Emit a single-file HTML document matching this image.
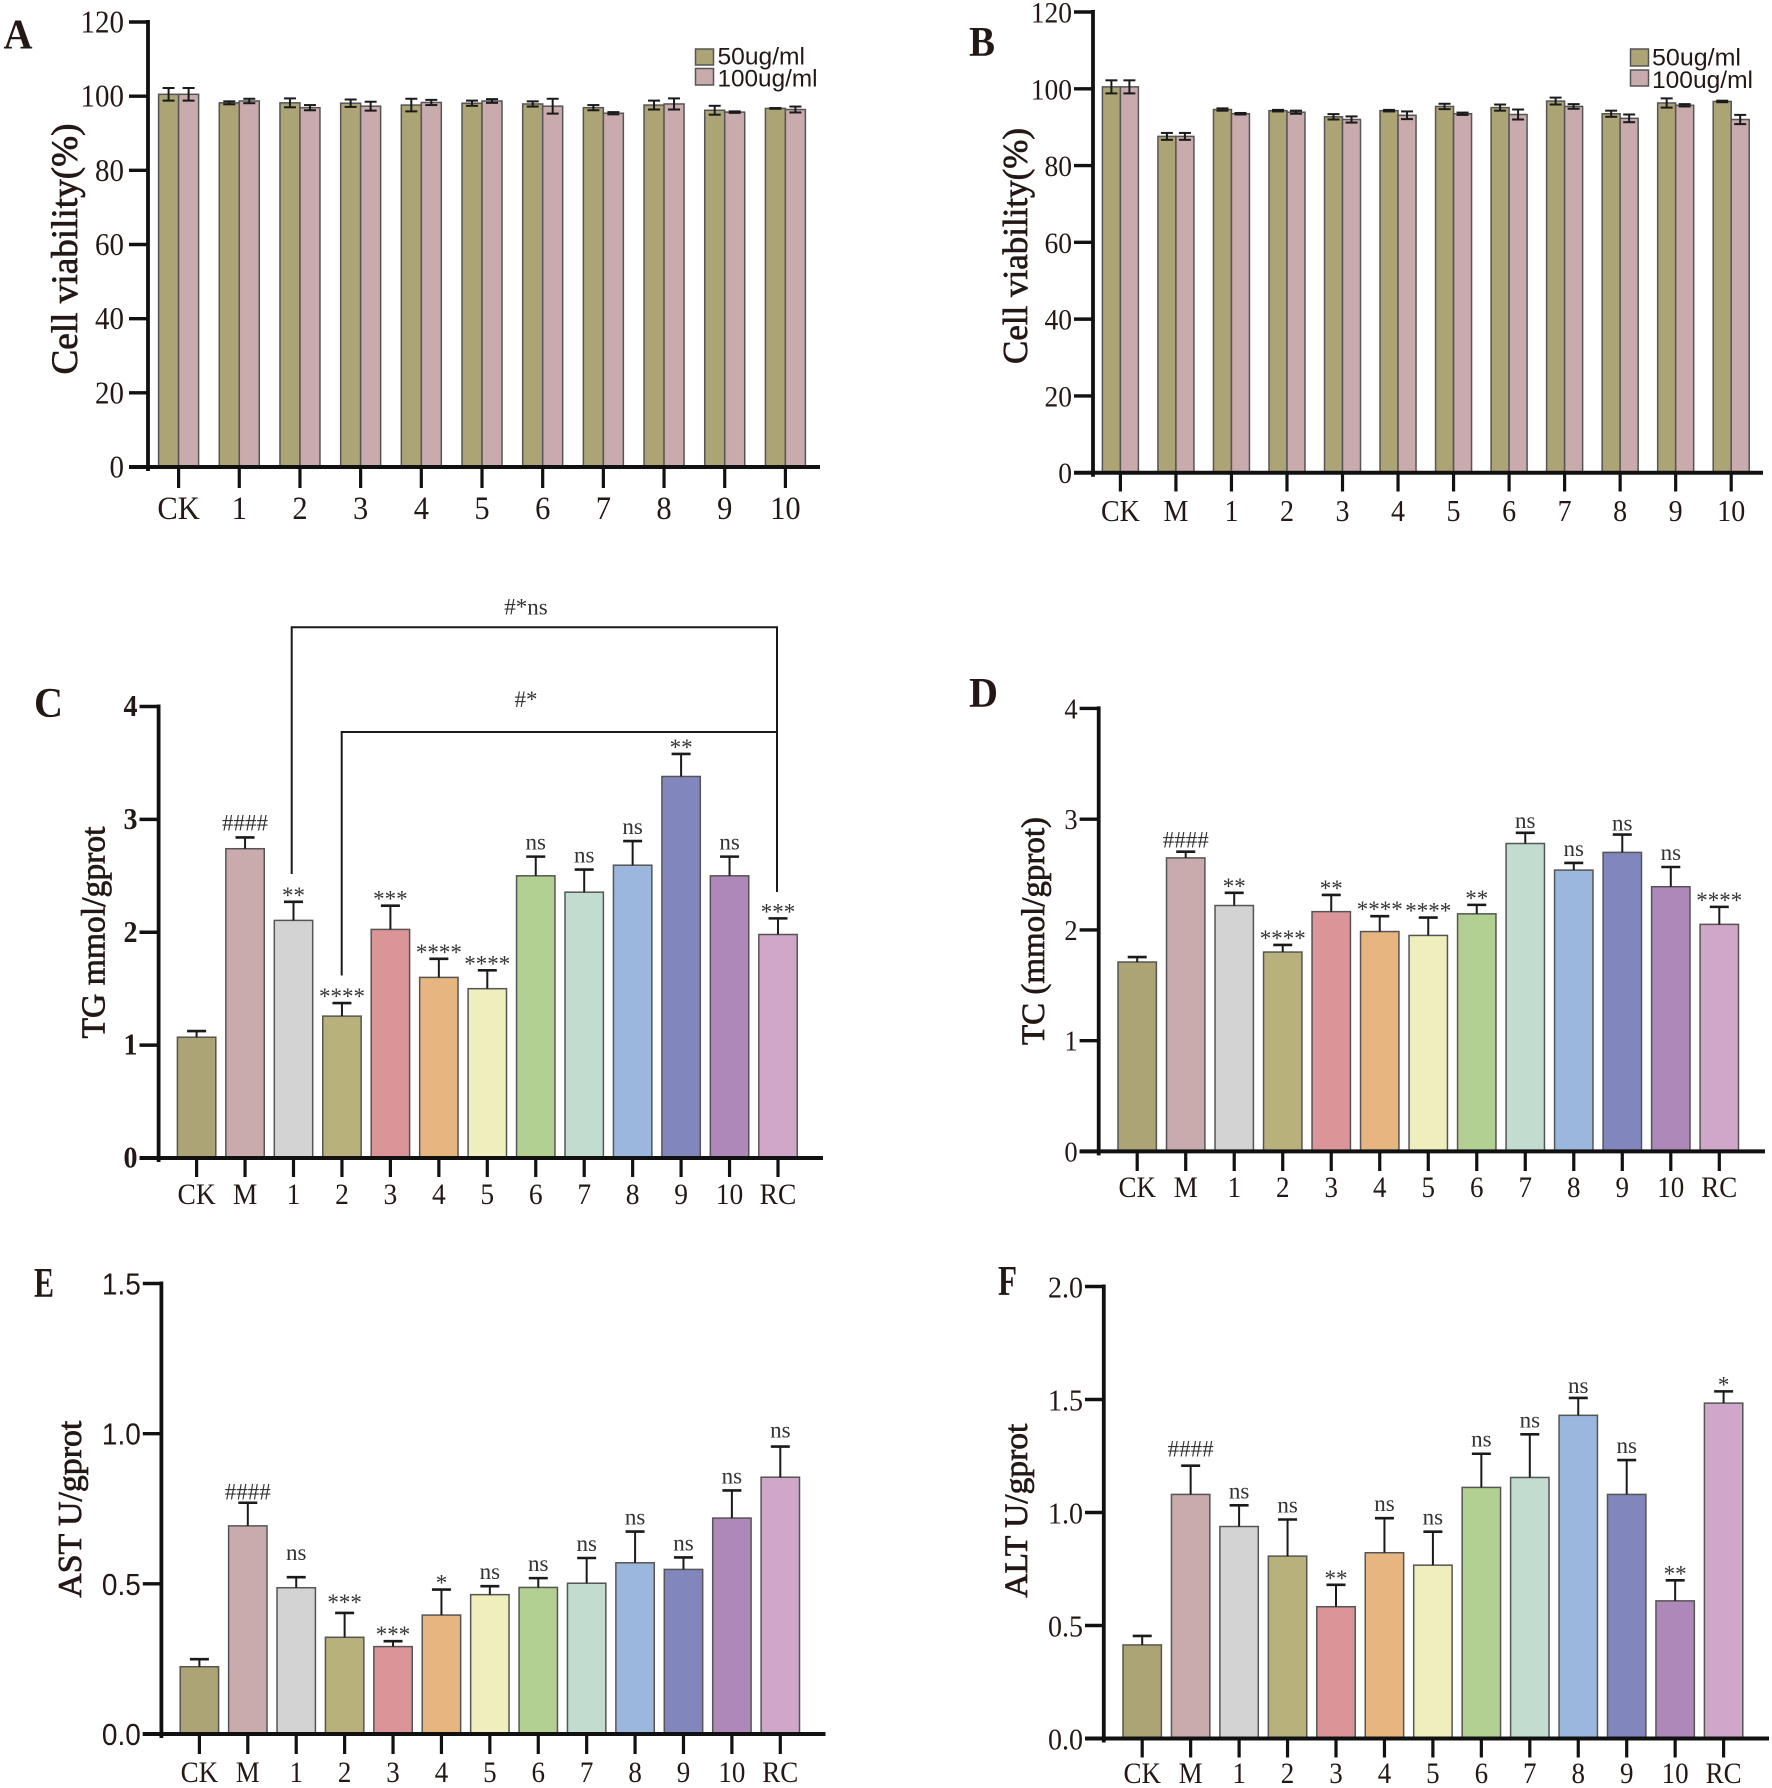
<!DOCTYPE html>
<html lang="en">
<head>
<meta charset="utf-8">
<title>Cell viability and lipid/liver enzyme bar charts</title>
<style>
html,body{margin:0;padding:0;background:#fff;}
svg{display:block;}
text{font-family:"Liberation Serif",serif;fill:#231815;}
.sans{font-family:"Liberation Sans",sans-serif;}
.letter{font-size:42px;font-weight:bold;}
.ytitle{font-weight:normal;stroke:#231815;stroke-width:.7px;}
.annot{font-size:23px;fill:#333;text-anchor:middle;}
</style>
</head>
<body>
<svg id="figure" xmlns="http://www.w3.org/2000/svg" width="1772" height="1788" viewBox="0 0 1772 1788">
  <rect x="0" y="0" width="1772" height="1788" fill="#fff"/>

  <text class="letter" x="3.5" y="48.5" textLength="29" lengthAdjust="spacingAndGlyphs">A</text>
  <text class="letter" x="969" y="56" textLength="26" lengthAdjust="spacingAndGlyphs">B</text>
  <text class="letter" x="34" y="717" textLength="29" lengthAdjust="spacingAndGlyphs">C</text>
  <text class="letter" x="969" y="707" textLength="29" lengthAdjust="spacingAndGlyphs">D</text>
  <text class="letter" x="34" y="1297" textLength="20" lengthAdjust="spacingAndGlyphs">E</text>
  <text class="letter" x="998" y="1295" textLength="19" lengthAdjust="spacingAndGlyphs">F</text>

  <text class="ytitle" transform="translate(77,374.5) rotate(-90)" font-size="37" textLength="251" lengthAdjust="spacingAndGlyphs">Cell viability(%)</text>
  <text class="ytitle" transform="translate(1027,364) rotate(-90)" font-size="35" textLength="236" lengthAdjust="spacingAndGlyphs">Cell viability(%)</text>
  <text class="ytitle" transform="translate(104.5,1038.5) rotate(-90)" font-size="33.6" textLength="212" lengthAdjust="spacingAndGlyphs">TG mmol/gprot</text>
  <text class="ytitle" transform="translate(1044,1045) rotate(-90)" font-size="33" textLength="228" lengthAdjust="spacingAndGlyphs">TC (mmol/gprot)</text>
  <text class="ytitle" transform="translate(81,1597.7) rotate(-90)" font-size="33.6" textLength="177" lengthAdjust="spacingAndGlyphs">AST U/gprot</text>
  <text class="ytitle" transform="translate(1027,1597.7) rotate(-90)" font-size="32.8" textLength="174" lengthAdjust="spacingAndGlyphs">ALT U/gprot</text>

  <g>
    <rect x="695.5" y="49" width="18" height="16" fill="#ACA474" stroke="#555" stroke-width="1.5"/>
    <rect x="695.5" y="68.5" width="18" height="16.5" fill="#C9ABAD" stroke="#555" stroke-width="1.5"/>
    <text class="sans" x="717.5" y="64.5" font-size="24" textLength="87.5" lengthAdjust="spacingAndGlyphs">50ug/ml</text>
    <text class="sans" x="717.5" y="86.5" font-size="24" textLength="100" lengthAdjust="spacingAndGlyphs">100ug/ml</text>
  </g>
  <g>
    <rect x="1630.5" y="49" width="18" height="17" fill="#ACA474" stroke="#555" stroke-width="1.5"/>
    <rect x="1630.5" y="70" width="18" height="16" fill="#C9ABAD" stroke="#555" stroke-width="1.5"/>
    <text class="sans" x="1652" y="65.5" font-size="24" textLength="89" lengthAdjust="spacingAndGlyphs">50ug/ml</text>
    <text class="sans" x="1652" y="88" font-size="24" textLength="101" lengthAdjust="spacingAndGlyphs">100ug/ml</text>
  </g>

  <g fill="none" stroke="#1a1a1a" stroke-width="2">
    <path d="M291.7 874 V627.3 H777 V892"/>
    <path d="M341.7 975.5 V732 H777"/>
  </g>
  <text class="annot" x="526" y="614.5">#*ns</text>
  <text class="annot" x="526" y="707">#*</text>
</svg>

<script>
// Panel A data
const categoriesA = ['CK','1','2','3','4','5','6','7','8','9','10'];
const ticksA = ['0','20','40','60','80','100','120'];
const values50A = [100.5,98.2,98.2,98.1,97.6,98.1,97.9,96.9,97.6,96.2,96.7];
const values100A = [100.5,98.7,96.9,97.3,98.3,98.7,97.3,95.4,97.9,95.7,96.4];
const errors50A = [1.7,0.4,1.2,1.0,1.7,0.7,0.7,0.7,1.2,1.2,0.1];
const errors100A = [1.7,0.6,0.7,1.2,0.7,0.5,2.0,0.3,1.5,0.2,0.8];

// Panel B data
const categoriesB = ['CK','M','1','2','3','4','5','6','7','8','9','10'];
const ticksB = ['0','20','40','60','80','100','120'];
const values50B = [100.5,87.6,94.6,94.3,92.7,94.3,95.4,95.1,96.8,93.5,96.3,96.7];
const values100B = [100.5,87.6,93.5,93.9,92.0,93.1,93.5,93.3,95.4,92.3,95.7,92.0];
const errors50B = [1.7,0.9,0.3,0.2,0.7,0.2,0.7,0.8,0.9,0.8,1.2,0.2];
const errors100B = [1.7,0.9,0.2,0.4,0.8,1.0,0.3,1.3,0.6,1.0,0.3,1.2];

// Shared categories for panels C-F
const categoriesTreat = ['CK','M','1','2','3','4','5','6','7','8','9','10','RC'];
const barColors = ['#ACA474','#C9ABAD','#D3D3D3','#B8B17B','#DB9599','#E7B680','#EEEFBC','#B3D093','#C2DDCF','#9CB7DE','#8186BC','#AE88B8','#D0A6C9'];

// Panel C data
const ticksC = ['0','1','2','3','4'];
const valuesC = [1.07,2.74,2.105,1.257,2.025,1.60,1.50,2.50,2.355,2.594,3.38,2.50,1.98];
const errorsC = [0.055,0.10,0.165,0.116,0.21,0.165,0.163,0.17,0.20,0.214,0.20,0.17,0.143];
const statsC = ['','####','**','****','***','****','****','ns','ns','ns','**','ns','***'];

// Panel D data
const ticksD = ['0','1','2','3','4'];
const valuesD = [1.71,2.65,2.22,1.80,2.165,1.985,1.95,2.145,2.78,2.54,2.70,2.39,2.05];
const errorsD = [0.045,0.056,0.115,0.064,0.151,0.139,0.161,0.081,0.097,0.065,0.161,0.178,0.158];
const statsD = ['','####','**','****','**','****','****','**','ns','ns','ns','ns','****'];
const liftsD = [0,-3,0,0,0,0,0,0,-2,0,-3,0,0];

// Panel E data
const ticksE = ['0.0','0.5','1.0','1.5'];
const valuesE = [0.224,0.693,0.487,0.322,0.291,0.396,0.464,0.488,0.502,0.57,0.548,0.719,0.855];
const errorsE = [0.025,0.077,0.035,0.081,0.018,0.085,0.028,0.031,0.084,0.104,0.04,0.092,0.102];
const statsE = ['','####','ns','***','***','*','ns','ns','ns','ns','ns','ns','ns'];
const liftsE = [0,-4,10,4,0,0,0,0,0,0,0,0,2];

// Panel F data
const ticksF = ['0.0','0.5','1.0','1.5','2.0'];
const valuesF = [0.414,1.08,0.938,0.807,0.583,0.822,0.767,1.111,1.155,1.43,1.08,0.609,1.484];
const errorsF = [0.04,0.127,0.094,0.162,0.097,0.153,0.148,0.149,0.191,0.077,0.152,0.091,0.052];
const statsF = ['','####','ns','ns','**','ns','ns','ns','ns','ns','ns','**','*'];
const liftsF = [0,2,0,0,0,0,0,0,0,-2,0,0,0];

const SVG_NS = 'http://www.w3.org/2000/svg';
const figure = document.getElementById('figure');

function svgEl(parent, tag, attrs) {
  const node = document.createElementNS(SVG_NS, tag);
  for (const key in attrs) node.setAttribute(key, attrs[key]);
  parent.appendChild(node);
  return node;
}

function makeScales(layout, categories, ticks) {
  const maxTick = Number(ticks[ticks.length - 1]);
  const step = (layout.xLast - layout.xFirst) / (categories.length - 1);
  return {
    x: function (i) { return layout.xFirst + i * step; },
    y: function (v) { return layout.y0 - (v / maxTick) * (layout.y0 - layout.yTop); }
  };
}

function drawAxes(group, layout, categories, ticks, scales) {
  const yLine = svgEl(group, 'line', {x1: layout.axisX, x2: layout.axisX, y1: layout.yTop - 2, y2: layout.y0 + 4, stroke: '#111', 'stroke-width': 3.8});
  
  
  const xLine = svgEl(group, 'line', {x1: layout.tickLeft, x2: layout.xEnd, y1: layout.y0, y2: layout.y0, stroke: '#111', 'stroke-width': 4});
  
  

  ticks.forEach(function (label) {
    const y = scales.y(Number(label));
    const tick = svgEl(group, 'line', {x1: layout.tickLeft, x2: layout.axisX, y1: y, y2: y, stroke: '#111', 'stroke-width': 3.4});
    
    
    const text = svgEl(group, 'text', {transform: 'translate(' + (layout.tickLeft - (layout.yLabelGap || 2)) + ',' + (y + layout.yLabelDy) + ') scale(0.92,1)', 'text-anchor': 'end', 'font-size': layout.yFont * 1.087, 'font-weight': layout.yWeight || 'normal', 'class': layout.ySans ? 'sans' : '', fill: '#2b2b2b'});
    text.textContent = label;
    
    
  });

  categories.forEach(function (label, i) {
    const x = scales.x(i);
    const tick = svgEl(group, 'line', {x1: x, x2: x, y1: layout.y0, y2: layout.tickBottom, stroke: '#111', 'stroke-width': 3.2});
    
    
    const text = svgEl(group, 'text', {transform: 'translate(' + x + ',' + layout.xLabelY + ') scale(0.92,1)', 'text-anchor': 'middle', 'font-size': layout.xFont * 1.087, fill: '#2b2b2b'});
    text.textContent = label;
    
    
  });
}

function drawGrouped(name, layout, categories, ticks, series) {
  const group = svgEl(figure, 'g', {});
  
  
  const scales = makeScales(layout, categories, ticks);

  categories.forEach(function (cat, i) {
    series.forEach(function (s, k) {
      const left = scales.x(i) + (k === 0 ? -layout.barW : 0);
      const top = scales.y(s.values[i]);
      const bar = svgEl(group, 'rect', {x: left, y: top, width: layout.barW, height: layout.y0 - top, fill: s.color, stroke: '#555', 'stroke-width': 1.5});
      
      
      const cx = left + layout.barW / 2;
      const hi = scales.y(s.values[i] + s.errors[i]);
      const lo = scales.y(s.values[i] - s.errors[i]);
      const stem = svgEl(group, 'line', {x1: cx, x2: cx, y1: hi, y2: lo, stroke: '#1a1a1a', 'stroke-width': 2});
      
      
      const capHi = svgEl(group, 'line', {x1: cx - 6, x2: cx + 6, y1: hi, y2: hi, stroke: '#1a1a1a', 'stroke-width': 2});
      
      
      const capLo = svgEl(group, 'line', {x1: cx - 6, x2: cx + 6, y1: lo, y2: lo, stroke: '#1a1a1a', 'stroke-width': 2});
      
      
    });
  });
  drawAxes(group, layout, categories, ticks, scales);
}

function drawSingle(name, layout, categories, ticks, values, errors, stats, lifts) {
  const group = svgEl(figure, 'g', {});
  
  
  const scales = makeScales(layout, categories, ticks);

  categories.forEach(function (cat, i) {
    const cx = scales.x(i);
    const top = scales.y(values[i]);
    const bar = svgEl(group, 'rect', {x: cx - layout.barW / 2, y: top, width: layout.barW, height: layout.y0 - top, fill: barColors[i], stroke: '#555', 'stroke-width': 1.5});
    
    
    const hi = scales.y(values[i] + errors[i]);
    const stem = svgEl(group, 'line', {x1: cx, x2: cx, y1: hi, y2: top, stroke: '#1a1a1a', 'stroke-width': 2});
    
    
    const cap = svgEl(group, 'line', {x1: cx - 9.5, x2: cx + 9.5, y1: hi, y2: hi, stroke: '#1a1a1a', 'stroke-width': 2.6});
    
    

    const mark = stats[i];
    if (mark) {
      const isStar = mark.charAt(0) === '*';
      const lift = (lifts ? lifts[i] : 0);
      const label = svgEl(group, 'text', {x: cx, y: hi - lift + (isStar ? 1 : -7), 'class': 'annot'});
      label.textContent = mark;
      
      
    }
  });
  drawAxes(group, layout, categories, ticks, scales);
}

drawGrouped('a', {axisX: 148, tickLeft: 129, xEnd: 820, tickBottom: 488, y0: 467, yTop: 22, xFirst: 178.6, xLast: 785.4, barW: 20, xLabelY: 519, xFont: 30.5, yFont: 29, yLabelDy: 10.5, yLabelGap: 5}, categoriesA, ticksA, [
  {name: '50ug-ml', color: '#ACA474', values: values50A, errors: errors50A},
  {name: '100ug-ml', color: '#C9ABAD', values: values100A, errors: errors100A}
]);

drawGrouped('b', {axisX: 1093, tickLeft: 1074, xEnd: 1763, tickBottom: 491.5, y0: 472.7, yTop: 12, xFirst: 1120.4, xLast: 1731.2, barW: 18, xLabelY: 520.8, xFont: 28, yFont: 27.5, yLabelDy: 10.5}, categoriesB, ticksB, [
  {name: '50ug-ml', color: '#ACA474', values: values50B, errors: errors50B},
  {name: '100ug-ml', color: '#C9ABAD', values: values100B, errors: errors100B}
]);

drawSingle('c', {axisX: 158.6, tickLeft: 139.5, xEnd: 823, tickBottom: 1177, y0: 1158, yTop: 706.5, xFirst: 196.6, xLast: 778, barW: 38.4, xLabelY: 1204, xFont: 27.5, yFont: 28, yWeight: 'bold', yLabelDy: 9.5}, categoriesTreat, ticksC, valuesC, errorsC, statsC);

drawSingle('d', {axisX: 1098.7, tickLeft: 1079.6, xEnd: 1765, tickBottom: 1171, y0: 1151.4, yTop: 708.4, xFirst: 1137.2, xLast: 1719.3, barW: 38.4, xLabelY: 1197, xFont: 27, yFont: 26.5, yLabelDy: 10}, categoriesTreat, ticksD, valuesD, errorsD, statsD, liftsD);

drawSingle('e', {axisX: 161.4, tickLeft: 142.8, xEnd: 825.5, tickBottom: 1754, y0: 1734, yTop: 1283.5, xFirst: 199.4, xLast: 780.3, barW: 38.4, xLabelY: 1782, xFont: 27, yFont: 28, ySans: true, yLabelDy: 11}, categoriesTreat, ticksE, valuesE, errorsE, statsE, liftsE);

drawSingle('f', {axisX: 1103.8, tickLeft: 1085, xEnd: 1769, tickBottom: 1757.5, y0: 1738.5, yTop: 1286.5, xFirst: 1142.2, xLast: 1723.6, barW: 38.4, xLabelY: 1783, xFont: 27, yFont: 28, yLabelDy: 11}, categoriesTreat, ticksF, valuesF, errorsF, statsF, liftsF);
</script>
</body>
</html>
